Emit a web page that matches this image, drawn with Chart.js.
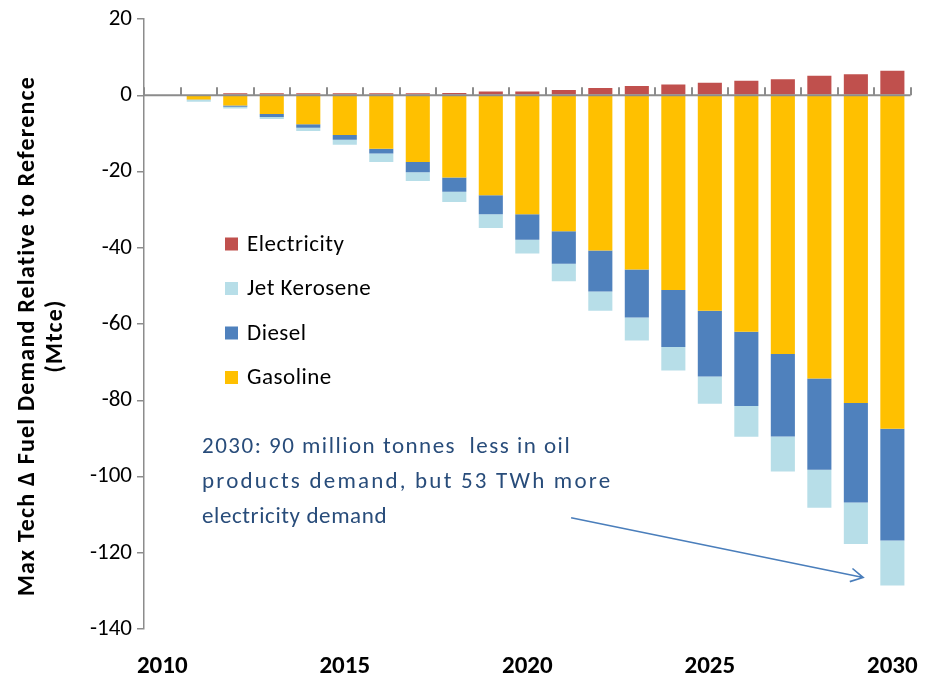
<!DOCTYPE html>
<html>
<head>
<meta charset="utf-8">
<script src="https://cdn.jsdelivr.net/npm/chart.js@4.4.1/dist/chart.umd.min.js"></script>
<style>
  html, body { margin: 0; padding: 0; background: #fff; }
  #wrap { position: relative; width: 933px; height: 687px; }
</style>
</head>
<body>
<div id="wrap"><canvas id="c" width="933" height="687"></canvas></div>
<script>
const years = ['2010','2011','2012','2013','2014','2015','2016','2017','2018','2019','2020',
               '2021','2022','2023','2024','2025','2026','2027','2028','2029','2030'];
const gasoline    = [0, -1.1, -2.7, -4.9, -7.6, -10.4, -14.0, -17.5, -21.6, -26.2, -31.2, -35.7, -40.7, -45.7, -51.1, -56.5, -62.0, -67.9, -74.3, -80.7, -87.5];
const diesel      = [0, -0.1, -0.3, -0.8, -0.9, -1.3, -1.3, -2.7, -3.7, -5.0, -6.7, -8.5, -10.8, -12.6, -14.9, -17.3, -19.5, -21.6, -23.9, -26.1, -29.3];
const jetKerosene = [0, -0.5, -0.5, -0.5, -0.9, -1.3, -2.2, -2.3, -2.7, -3.6, -3.6, -4.6, -5.0, -6.0, -6.2, -7.1, -8.1, -9.2, -10.0, -10.9, -11.8];
const electricity = [0, 0, 0.5, 0.5, 0.5, 0.5, 0.5, 0.5, 0.6, 1.0, 1.0, 1.4, 1.9, 2.4, 2.8, 3.3, 3.8, 4.2, 5.1, 5.5, 6.4];
const shownYearLabels = ['2010','2015','2020','2025','2030'];
const yTitle = ['Max Tech \u0394 Fuel Demand Relative to Reference', '(Mtce)'];
const legendOrder = ['Electricity', 'Jet Kerosene', 'Diesel', 'Gasoline'];
const noteLines = ['2030: 90 million tonnes  less in oil', 'products demand, but 53 TWh more', 'electricity demand'];
const noteSpacing = ['1.5px', '2.2px', '0.6px'];

const FONT = "Carlito, Lato, 'Open Sans', sans-serif";

const decor = {
  id: 'decor',
  afterDatasetsDraw(chart) {
    const ctx = chart.ctx;
    const x = chart.scales.x, y = chart.scales.y;
    const ca = chart.chartArea;
    const y0 = y.getPixelForValue(0);
    const step = x.getPixelForValue(1) - x.getPixelForValue(0);
    ctx.save();
    // zero line with upward category tick marks
    ctx.strokeStyle = '#8c8c8c';
    ctx.lineWidth = 2;
    ctx.beginPath();
    ctx.moveTo(ca.left, y0);
    ctx.lineTo(ca.right, y0);
    for (let i = 0; i <= years.length; i++) {
      const px = Math.round(x.getPixelForValue(0) - step / 2 + i * step);
      ctx.moveTo(px, y0);
      ctx.lineTo(px, y0 - 8);
    }
    ctx.stroke();

    // legend
    const byLabel = {};
    chart.data.datasets.forEach(d => byLabel[d.label] = d);
    ctx.font = '23px ' + FONT;
    ctx.letterSpacing = '0.5px';
    ctx.textBaseline = 'middle';
    ctx.textAlign = 'left';
    legendOrder.forEach((lab, i) => {
      const cy = 244 + i * 44.5;
      ctx.fillStyle = byLabel[lab].backgroundColor;
      ctx.fillRect(225, cy - 6.5, 13, 13);
      ctx.fillStyle = '#000';
      ctx.fillText(lab, 247, cy + 1);
    });

    // annotation
    ctx.fillStyle = '#284c7a';
    ctx.font = '23px ' + FONT;
    noteLines.forEach((t, i) => {
      ctx.letterSpacing = noteSpacing[i];
      ctx.fillText(t, 202, 447 + i * 35);
    });

    // y axis title
    ctx.fillStyle = '#000';
    ctx.font = 'bold 24px ' + FONT;
    ctx.letterSpacing = '1.2px';
    ctx.textAlign = 'center';
    ctx.translate(0, (ca.top + ca.bottom) / 2 + 12);
    ctx.rotate(-Math.PI / 2);
    ctx.fillText(yTitle[0], 0, 28);
    ctx.fillText(yTitle[1], 0, 56);
    ctx.setTransform(1, 0, 0, 1, 0, 0);
    ctx.letterSpacing = '0px';

    // arrow anchored to the data scales
    const sx = x.getPixelForValue(11.2), sy = y.getPixelForValue(-110.8);
    const ex = x.getPixelForValue(19.2), ey = y.getPixelForValue(-126.5);
    ctx.strokeStyle = '#4a7ebb';
    ctx.lineWidth = 1.6;
    ctx.beginPath();
    ctx.moveTo(sx, sy);
    ctx.lineTo(ex, ey);
    const ang = Math.atan2(ey - sy, ex - sx);
    const L = 14, A = 0.5;
    ctx.moveTo(ex - L * Math.cos(ang - A), ey - L * Math.sin(ang - A));
    ctx.lineTo(ex, ey);
    ctx.lineTo(ex - L * Math.cos(ang + A), ey - L * Math.sin(ang + A));
    ctx.stroke();
    ctx.restore();
  }
};

new Chart(document.getElementById('c'), {
  type: 'bar',
  data: {
    labels: years,
    datasets: [
      { label: 'Gasoline', data: gasoline, backgroundColor: '#FFC000' },
      { label: 'Diesel', data: diesel, backgroundColor: '#4F81BD' },
      { label: 'Jet Kerosene', data: jetKerosene, backgroundColor: '#B7DEE8' },
      { label: 'Electricity', data: electricity, backgroundColor: '#C0504D' }
    ]
  },
  options: {
    responsive: false,
    animation: false,
    devicePixelRatio: 1,
    layout: { padding: { top: 19, right: 12, left: 0, bottom: 0 } },
    datasets: { bar: { barPercentage: 0.66, categoryPercentage: 1.0, borderWidth: 0 } },
    plugins: { legend: { display: false }, tooltip: { enabled: false } },
    scales: {
      x: {
        stacked: true,
        grid: { display: false },
        border: { display: false },
        ticks: {
          autoSkip: false, maxRotation: 0, minRotation: 0, padding: 15,
          color: '#000', font: { family: FONT, size: 25, weight: 'bold' },
          callback: function(v) { const l = this.getLabelForValue(v); return shownYearLabels.includes(l) ? l : ''; }
        },
        afterFit(s) { s.height = 58; }
      },
      y: {
        stacked: true,
        min: -140, max: 20,
        grid: { drawOnChartArea: false, drawTicks: true, tickLength: 7, color: '#8c8c8c', lineWidth: 1.5 },
        border: { display: true, color: '#8c8c8c', width: 1.5 },
        ticks: { stepSize: 20, padding: 5, color: '#000', font: { family: FONT, size: 23 } },
        afterFit(s) { s.width = 144; }
      }
    }
  },
  plugins: [decor]
});
</script>
</body>
</html>
